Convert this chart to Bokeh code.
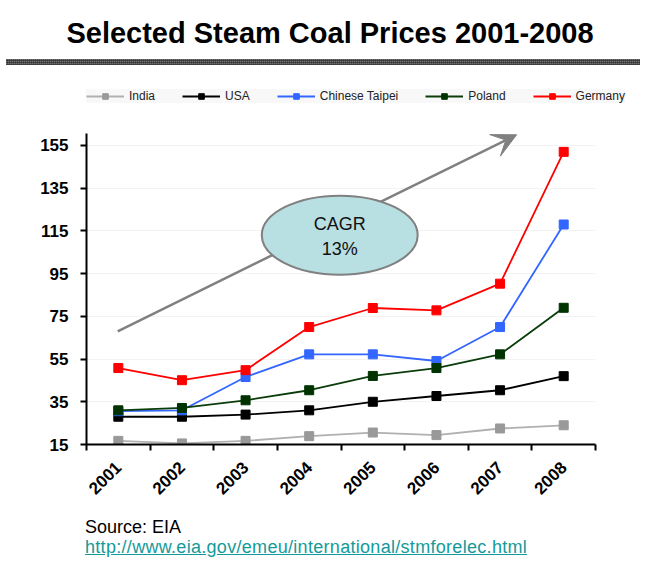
import math
from bokeh.plotting import figure
from bokeh.layouts import column
from bokeh.models import (Range1d, FixedTicker, Arrow, VeeHead, Div, Legend)
from bokeh.core.properties import value
from bokeh.embed import file_html
from bokeh.resources import INLINE

# ---------------- data ----------------
years = ["2001", "2002", "2003", "2004", "2005", "2006", "2007", "2008"]
india = [16.7, 15.5, 16.7, 18.9, 20.6, 19.4, 22.5, 24.0]
usa = [28.0, 28.0, 29.0, 31.0, 35.0, 37.7, 40.4, 47.0]
taipei = [30.6, 31.0, 46.6, 57.2, 57.2, 54.1, 70.0, 118.0]
poland = [31.0, 32.1, 35.7, 40.4, 47.1, 50.8, 57.2, 79.0]
germany = [50.8, 45.1, 49.8, 70.0, 78.9, 77.8, 90.3, 152.0]
y_ticks = [15, 35, 55, 75, 95, 115, 135, 155]

series_names = ["India", "USA", "Chinese Taipei", "Poland", "Germany"]
series_values = [india, usa, taipei, poland, germany]
line_colors = ["#b0b0b0", "#000000", "#3366ff", "#0b3d0b", "#ff0000"]
marker_colors = ["#999999", "#000000", "#3366ff", "#003300", "#ff0000"]

title_text = "Selected Steam Coal Prices 2001-2008"
cagr_text = ["CAGR", "13%"]
source_text = "Source: EIA"
url_text = "http://www.eia.gov/emeu/international/stmforelec.html"

# annotation geometry (data units)
arrow_start = (0.49, 68.0)
arrow_end = (6.76, 160.0)
bubble_center = (3.98, 113.0)
bubble_size = (2.45, 37.0)
bubble_text_y = [118.4, 106.7]

FONT = "Liberation Sans"
W = 640

xs = [i + 0.5 for i in range(len(years))]

# ---------------- header (title + separator) ----------------
header = Div(width=W, height=76, margin=0, text=f"""
<div style="position:relative;width:{W}px;height:76px;">
  <div style="position:absolute;left:10px;top:19px;width:{W}px;text-align:center;
              font-family:'{FONT}';font-weight:bold;font-size:29px;line-height:29px;
              color:#000;white-space:nowrap;">{title_text}</div>
  <div style="position:absolute;left:6px;top:59px;width:{W - 6}px;height:6px;
              background-color:#505050;
              background-image:repeating-linear-gradient(0deg, rgba(0,0,0,0.35) 0px, rgba(0,0,0,0.35) 1px, transparent 1px, transparent 2px),
                               repeating-linear-gradient(90deg, rgba(255,255,255,0.18) 0px, rgba(255,255,255,0.18) 1px, transparent 1px, transparent 2px);"></div>
</div>""")

# ---------------- legend strip (series drawn out of view, legend only) ----------------
lf = figure(width=W, height=49, x_range=Range1d(100, 101), y_range=Range1d(1000, 1001),
            output_backend="svg", toolbar_location=None, frame_align=False,
            min_border_left=0, min_border_right=0, min_border_top=0, min_border_bottom=0)
lf.title.visible = False
lf.axis.visible = False
lf.grid.grid_line_color = None
lf.outline_line_color = None
items = []
for name, vals, lc, mc in zip(series_names, series_values, line_colors, marker_colors):
    r1 = lf.line(xs, vals, line_color=lc, line_width=1.8)
    r2 = lf.scatter(xs, vals, marker="square", size=9, fill_color=mc, line_color=mc)
    items.append((name, [r1, r2]))
lg = Legend(items=items, orientation="horizontal", location=(86, 22),
            margin=0, padding=6, spacing=27,
            glyph_width=38, glyph_height=14, label_height=14, label_standoff=5,
            label_text_font=FONT, label_text_font_size="12px",
            label_text_color="#222222",
            background_fill_color="#f8f8f8", background_fill_alpha=1.0,
            border_line_color=None)
lf.add_layout(lg)

# ---------------- chart ----------------
p = figure(width=W, height=385,
           x_range=Range1d(0, len(years)), y_range=Range1d(15, 160.6),
           output_backend="svg", toolbar_location=None, frame_align=False,
           min_border_left=86, min_border_right=W - 595,
           min_border_top=8, min_border_bottom=66)
p.title.visible = False
p.outline_line_color = None

p.xgrid.grid_line_color = None
p.ygrid.grid_line_color = "#f3f3f3"
p.ygrid.ticker = FixedTicker(ticks=y_ticks)

p.yaxis.ticker = FixedTicker(ticks=y_ticks)
p.yaxis.axis_line_width = 2
p.yaxis.axis_line_color = "black"
p.yaxis.major_tick_line_width = 2
p.yaxis.major_tick_out = 6
p.yaxis.major_tick_in = 0
p.yaxis.minor_tick_line_color = None
p.yaxis.major_label_text_font = FONT
p.yaxis.major_label_text_font_style = "bold"
p.yaxis.major_label_text_font_size = "17px"
p.yaxis.major_label_text_color = "black"
p.yaxis.major_label_standoff = 12

p.xaxis.ticker = FixedTicker(ticks=xs, minor_ticks=list(range(len(years) + 1)))
p.xaxis.major_label_overrides = {x: y for x, y in zip(xs, years)}
p.xaxis.axis_line_width = 2
p.xaxis.axis_line_color = "black"
p.xaxis.major_tick_line_color = None
p.xaxis.minor_tick_line_color = "black"
p.xaxis.minor_tick_line_width = 2
p.xaxis.minor_tick_out = 6
p.xaxis.minor_tick_in = 0
p.xaxis.major_label_orientation = math.pi / 4
p.xaxis.major_label_text_font = FONT
p.xaxis.major_label_text_font_style = "bold"
p.xaxis.major_label_text_font_size = "17px"
p.xaxis.major_label_text_color = "black"
p.xaxis.major_label_standoff = 14

arr = Arrow(x_start=arrow_start[0], y_start=arrow_start[1],
            x_end=arrow_end[0], y_end=arrow_end[1],
            line_color="#808080", line_width=2.5,
            end=VeeHead(size=24, fill_color="#808080", line_color="#808080"),
            level="underlay")
p.add_layout(arr)

for name, vals, lc, mc in zip(series_names, series_values, line_colors, marker_colors):
    p.line(xs, vals, line_color=lc, line_width=1.8)
    p.scatter(xs, vals, marker="square", size=9, fill_color=mc, line_color=mc)

p.ellipse(x=[bubble_center[0]], y=[bubble_center[1]],
          width=bubble_size[0], height=bubble_size[1],
          fill_color="#b8dfe2", line_color="#808080", line_width=2)
p.text(x=[bubble_center[0]] * 2, y=bubble_text_y, text=cagr_text,
       text_align="center", text_baseline="middle",
       text_font=value(FONT), text_font_size="18px", text_color="#111111")

# ---------------- footer (source) ----------------
footer = Div(width=W, height=52, margin=0, text=f"""
<div style="position:relative;width:{W}px;height:52px;">
  <div style="position:absolute;left:85px;top:8px;font-family:'{FONT}';font-size:18px;
              line-height:18px;color:#000;white-space:nowrap;">{source_text}</div>
  <div style="position:absolute;left:85px;top:28px;font-family:'{FONT}';font-size:18px;
              line-height:18px;letter-spacing:0.3px;white-space:nowrap;"><a href="{url_text}"
              style="color:#149a9a;text-decoration:underline;">{url_text}</a></div>
</div>""")

layout = column(header, lf, p, footer, spacing=0)
open("out.html", "w").write(file_html(layout, INLINE))
